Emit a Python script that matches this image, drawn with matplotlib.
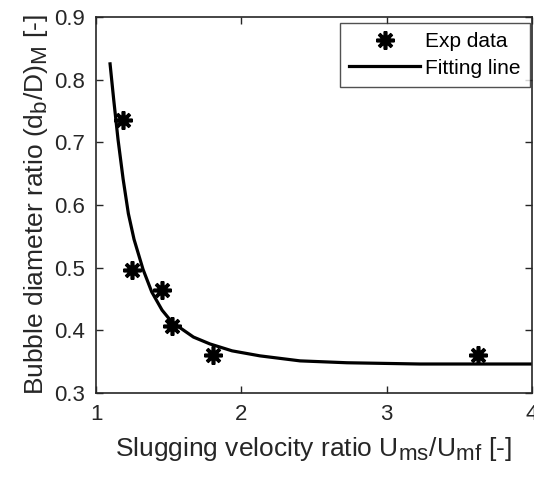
import matplotlib
matplotlib.use('Agg')
from matplotlib import pyplot as plt
import matplotlib._mathtext as mathtext_internal

# experimental points
exp_x = [1.186, 1.248, 1.456, 1.523, 1.805, 3.629]
exp_y = [0.736, 0.496, 0.464, 0.406, 0.360, 0.360]

# fitting line
fit_x = [1.096, 1.121, 1.151, 1.186, 1.222, 1.261, 1.323, 1.383, 1.454, 1.521,
         1.670, 1.784, 1.936, 2.128, 2.266, 2.404, 2.727, 3.229, 4.000]
fit_y = [0.825, 0.768, 0.704, 0.641, 0.586, 0.545, 0.497, 0.461, 0.432, 0.413,
         0.389, 0.378, 0.367, 0.359, 0.355, 0.351, 0.348, 0.346, 0.346]

x_ticks = [1, 2, 3, 4]
y_ticks = [0.3, 0.4, 0.5, 0.6, 0.7, 0.8, 0.9]

dark = '#262626'


def main():
    plt.rcParams['font.family'] = ['Liberation Sans', 'DejaVu Sans']
    plt.rcParams['mathtext.fontset'] = 'custom'
    plt.rcParams['mathtext.rm'] = 'Liberation Sans'
    # matlab style subscripts are barely smaller than the main text
    mathtext_internal.SHRINK_FACTOR = 0.85

    fig = plt.figure(figsize=(5.34, 4.82), dpi=100)
    ax = fig.add_axes([0.180, 0.185, 0.816, 0.780])

    ax.plot(exp_x, exp_y, linestyle='none', marker=(8, 2, 0),
            markersize=13, markeredgewidth=2.6, color='black',
            label='Exp data')
    ax.plot(fit_x, fit_y, color='black', linewidth=2.3, label='Fitting line')

    ax.set_xlim(1, 4)
    ax.set_ylim(0.3, 0.9)
    ax.set_xticks(x_ticks)
    ax.set_yticks(y_ticks)
    ax.set_xticklabels([str(t) for t in x_ticks])
    ax.set_yticklabels([f'{t:.1f}' for t in y_ticks])
    ax.tick_params(direction='in', length=5, width=1, top=True, right=True,
                   labelsize=16, colors=dark, pad=8)
    for s in ax.spines.values():
        s.set_linewidth(1.2)
        s.set_color(dark)

    ax.set_xlabel(r'Slugging velocity ratio U$_{\mathregular{ms}}$/U$_{\mathregular{mf}}$ [-]',
                  fontsize=19, color=dark, labelpad=7)
    ax.set_ylabel(r'Bubble diameter ratio (d$_{\mathregular{b}}$/D)$_{\mathregular{M}}$ [-]',
                  fontsize=19, color=dark, labelpad=3)

    leg = ax.legend(loc='upper right', bbox_to_anchor=(530 / 534, 1 - 23 / 482),
                    bbox_transform=fig.transFigure, borderaxespad=0,
                    fontsize=15, frameon=True, fancybox=False,
                    edgecolor=dark, handlelength=3.4, handletextpad=0.25,
                    borderpad=0.45, labelspacing=0.35)
    leg.get_frame().set_linewidth(1.0)

    fig.savefig('out.png', dpi=100)


if __name__ == '__main__':
    main()
